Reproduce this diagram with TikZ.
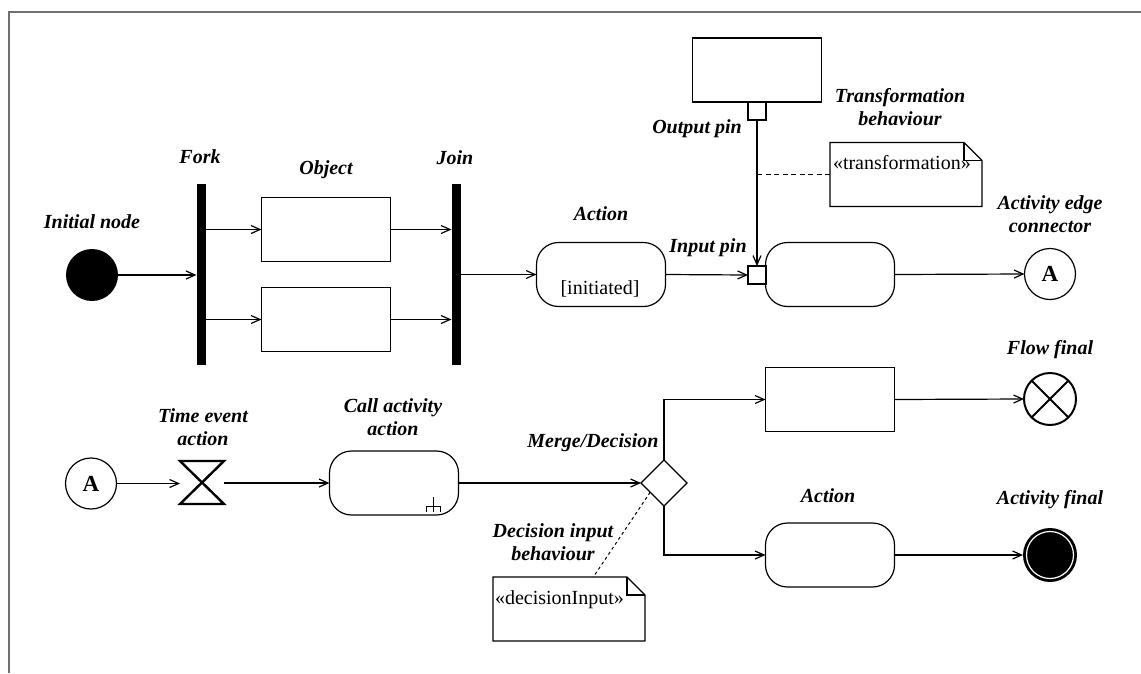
\documentclass[tikz,border=0pt]{standalone}
\usepackage{fontspec}
\setmainfont{Liberation Serif}
\usetikzlibrary{arrows.meta,shapes.geometric,calc}
\definecolor{framegray}{HTML}{707070}
\begin{document}
\begin{tikzpicture}[x=1pt,y=-1pt,
  line width=1.2pt,
  >={Straight Barb[length=9pt,width=8pt]},
  every node/.style={inner sep=0pt, outer sep=0pt},
  lbl/.style={font=\fontsize{20}{23}\selectfont\bfseries\itshape, align=center},
  txt/.style={font=\fontsize{20}{23}\selectfont},
  objbox/.style={draw, rectangle, minimum width=129pt, minimum height=64pt},
  actbox/.style={draw, rectangle, rounded corners=22pt, minimum width=129pt, minimum height=64pt},
  pinbox/.style={draw, rectangle, minimum size=18pt, fill=white},
  bar/.style={fill=black, rectangle, minimum width=9pt, minimum height=181pt},
  startdot/.style={circle, fill=black, minimum size=52pt},
  conn/.style={draw, circle, minimum size=51pt, font=\fontsize{23}{23}\selectfont\bfseries},
  notebox/.style={rectangle, minimum width=152pt, minimum height=64pt},
  flow/.style={->},
]
\useasboundingbox (0,0) rectangle (1141,673);

% frame
\draw[framegray, line width=2pt] (8.5,673) -- (8.5,11.5) -- (1141,11.5);

% ---- upper flow ----
\node[startdot] (init) at (92,275) {};
\node[bar] (fork) at (201,274.5) {};
\node[objbox] (obj1) at (326,229.5) {};
\node[objbox] (obj2) at (326,319.5) {};
\node[bar] (join) at (456,274.5) {};
\node[actbox] (act1) at (601,274.5) {};
\node[txt] (act1txt) at (600,289) {[initiated]};
\node[actbox] (act2) at (830,274.5) {};
\node[pinbox] (inpin) at (757,275) {};
\node[conn] (conA) at (1050,274) {A};
\node[objbox] (topobj) at (757,70) {};
\node[pinbox] (outpin) at (757,111) {};
\node[notebox] (tn) at (906,174.5) {};
\node[txt, anchor=base west] (tntext) at ([xshift=3pt,yshift=-27pt]tn.north west) {«transformation»};

\draw[flow] (init.east) -- (init.east -| fork.west);
\draw[flow] (obj1.west -| fork.east) -- (obj1.west);
\draw[flow] (obj2.west -| fork.east) -- (obj2.west);
\draw[flow] (obj1.east) -- (obj1.east -| join.west);
\draw[flow] (obj2.east) -- (obj2.east -| join.west);
\draw[flow] (act1.west -| join.east) -- (act1.west);
\draw[flow] (act1.east) -- (inpin.west);
\draw[flow] (outpin.south) -- (inpin.north);
\draw[flow] (act2.east) -- (conA.west);
\draw[dash pattern=on 5pt off 3.5pt, line width=1pt] (tn.west -| outpin) -- (tn.west);

% ---- lower flow ----
\node[conn] (conA2) at (91,483.5) {A};
\node[rectangle, minimum width=44pt, minimum height=43pt] (tev) at (202,482.5) {};
\draw[line width=2.4pt, line join=miter] (tev.north west) -- (tev.north east) -- (tev.south west) -- (tev.south east) -- cycle;
\node[actbox] (ca) at (394,483) {};
\node[draw, diamond, minimum size=46pt] (dia) at (664,483) {};
\node[objbox] (obj3) at (830,399.5) {};
\node[actbox] (act3) at (830,555) {};
\node[draw, circle, minimum size=52pt, line width=2pt] (ff) at (1050,399) {};
\draw[line width=2pt] (ff.north west) -- (ff.south east);
\draw[line width=2pt] (ff.north east) -- (ff.south west);
\node[circle, fill=black, minimum size=54pt] (af) at (1050,555) {};
\draw[white, line width=1.2pt] (af.center) circle[radius=23.5pt];
\node[notebox] (dn) at (569,609) {};
\node[txt, anchor=base west] (dntext) at ([xshift=2pt,yshift=-27pt]dn.north west) {«decisionInput»};

% call behaviour rake
\draw[line width=1pt] ($(ca.south east)+(-31.6,-9)$) -- ($(ca.south east)+(-17.6,-9)$);
\draw[line width=1pt] ($(ca.south east)+(-25,-18)$) -- ($(ca.south east)+(-25,-3.5)$);
\draw[line width=1pt] ($(ca.south east)+(-31.6,-9)$) -- ($(ca.south east)+(-31.6,-3.5)$);
\draw[line width=1pt] ($(ca.south east)+(-17.6,-9)$) -- ($(ca.south east)+(-17.6,-3.5)$);

\draw[flow] (conA2.east) -- (conA2.east -| tev.west);
\draw[flow] (ca.west -| tev.east) -- (ca.west);
\draw[flow] (ca.east) -- (dia.west);
\draw[flow] (dia.north) |- (obj3.west);
\draw[flow] (dia.south) |- (act3.west);
\draw[flow] (obj3.east) -- (ff.west);
\draw[flow] (act3.east) -- (af.west);
\draw[dash pattern=on 3pt off 3pt, line width=1pt] ($(dia.west)!0.4!(dia.south)$) -- ($(dn.north west)!0.66!(dn.north east)$);

% notes with folded corner
\foreach \n in {tn,dn} {
  \draw (\n.north west) -- ([xshift=-18pt]\n.north east) -- ([yshift=-18pt]\n.north east) -- (\n.south east) -- (\n.south west) -- cycle;
  \draw ([xshift=-18pt]\n.north east) |- ([yshift=-18pt]\n.north east);
}

% ---- labels ----
\node[lbl] (lInit) at (92,222) {Initial node};
\node[lbl] (lFork) at (200,157) {Fork};
\node[lbl] (lObj) at (326,170) {Object};
\node[lbl] (lJoin) at (455,158) {Join};
\node[lbl] (lAct1) at (601,214) {Action};
\node[lbl] (lIn) at (708,248) {Input pin};
\node[lbl] (lOut) at (697,129) {Output pin};
\node[lbl] (lTrans) at (900,107.5) {Transformation\\behaviour};
\node[lbl] (lConn) at (1050,214.5) {Activity edge\\connector};
\node[lbl] (lTime) at (203,427.5) {Time event\\action};
\node[lbl] (lCall) at (393,417) {Call activity\\action};
\node[lbl] (lMerge) at (593,443) {Merge/Decision};
\node[lbl] (lDec) at (553,542) {Decision input\\behaviour};
\node[lbl] (lFlow) at (1050,350) {Flow final};
\node[lbl] (lAct3) at (828,496) {Action};
\node[lbl] (lFinal) at (1050,500) {Activity final};
\end{tikzpicture}
\end{document}
